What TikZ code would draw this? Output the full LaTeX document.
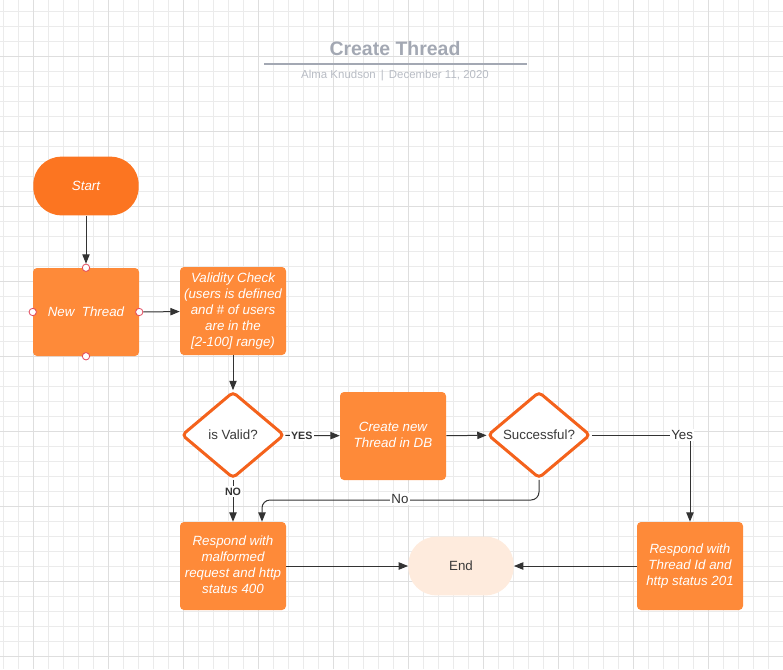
\documentclass[tikz,border=0pt]{standalone}
\usepackage{fontspec}
\setmainfont{Liberation Sans}
\usepackage{tikz}
\usetikzlibrary{shapes.geometric,arrows.meta}
\definecolor{GridMinor}{RGB}{235,235,235}
\definecolor{GridMajor}{RGB}{222,222,222}
\definecolor{TitleGray}{RGB}{163,168,179}
\definecolor{SubGray}{RGB}{184,188,196}
\definecolor{StartOrange}{RGB}{252,117,33}
\definecolor{BoxOrange}{RGB}{254,138,57}
\definecolor{EdgeOrange}{RGB}{244,98,28}
\definecolor{EndPeach}{RGB}{254,235,221}
\definecolor{PointRed}{RGB}{226,72,92}
\definecolor{LineGray}{RGB}{51,51,51}
\definecolor{TextDark}{RGB}{58,58,58}

\begin{document}
\begin{tikzpicture}[x=0.75pt,y=-0.75pt,
    every node/.style={font=\fontsize{10}{12}\selectfont},
    terminal/.style={rectangle, rounded corners=21pt, minimum width=79pt, minimum height=44pt, inner sep=0pt},
    process/.style={rectangle, rounded corners=3pt, fill=BoxOrange, text=white,
      font=\fontsize{10}{12}\selectfont\itshape, minimum width=79.5pt, minimum height=66pt, inner sep=0pt},
    decision/.style={diamond, aspect=1.2, draw=EdgeOrange, line width=2.25pt, rounded corners=3pt,
      fill=white, text=TextDark, minimum width=77pt, minimum height=65pt, inner sep=0pt},
    conpt/.style={circle, draw=PointRed, fill=white, line width=0.6pt, minimum size=5.5pt, inner sep=0pt},
    arr/.style={draw=LineGray, line width=0.75pt, -{Triangle[length=7pt,width=5.5pt]}},
    tag/.style={fill=white, text=LineGray, inner sep=1pt}]

  \useasboundingbox (0,0) rectangle (783,669);

  % grid
  \foreach \x in {3.3,18.3,...,783} \draw[GridMinor, line width=0.75pt] (\x,0) -- (\x,669);
  \foreach \y in {11.7,26.7,...,669} \draw[GridMinor, line width=0.75pt] (0,\y) -- (783,\y);
  \foreach \x in {33.3,108.3,...,783} \draw[GridMajor, line width=0.75pt] (\x,0) -- (\x,669);
  \foreach \y in {56.7,131.7,...,669} \draw[GridMajor, line width=0.75pt] (0,\y) -- (783,\y);

  % heading
  \node (Title) [text=TitleGray, font=\fontsize{14.6}{17}\selectfont\bfseries] at (395,49) {Create Thread};
  \draw[TitleGray, line width=0.9pt] (264,64) -- (527,64);
  \node (Sub) [text=SubGray, font=\fontsize{8.6}{10}\selectfont] at (395,76) {Alma Knudson \,|\, December 11, 2020};

  % shapes
  \node (Start) [terminal, fill=StartOrange, text=white, font=\fontsize{10}{12}\selectfont\itshape] at (86,186) {Start};
  \node (NewThread) [process] at (86,312) {New\ \ Thread};
  \node (Check) [process] at (233,311) {
    \begin{tabular}{@{}c@{}}
      Validity Check \\
      (users is defined \\
      and \# of users \\
      are in the \\
      {[2-100]} range)
    \end{tabular}
  };
  \node (Valid) [decision] at (233,435) {is Valid?};
  \node (Create) [process] at (393,436) {
    \begin{tabular}{@{}c@{}}
      Create new \\
      Thread in DB
    \end{tabular}
  };
  \node (Success) [decision] at (539,435) {Successful?};
  \node (Bad) [process] at (233,566) {
    \begin{tabular}{@{}c@{}}
      Respond with \\
      malformed \\
      request and http \\
      status 400
    \end{tabular}
  };
  \node (End) [terminal, fill=EndPeach, text=TextDark] at (461,566) {End};
  \node (Good) [process] at (690,566) {
    \begin{tabular}{@{}c@{}}
      Respond with \\
      Thread Id and \\
      http status 201
    \end{tabular}
  };

  % connection points
  \node (PTop) [conpt] at (NewThread.north) {};
  \node (PLeft) [conpt] at (NewThread.west) {};
  \node (PRight) [conpt] at (NewThread.east) {};
  \node (PBottom) [conpt] at (NewThread.south) {};

  % connectors
  \draw[arr] (Start) -- (PTop);
  \draw[arr] (PRight) -- (Check);
  \draw[arr] (Check) -- (Valid);
  \draw[arr] (Valid) -- (Create) node [tag, pos=0.3, font=\fontsize{8}{10}\selectfont\bfseries] {YES};
  \draw[arr] (Valid) -- (Bad) node [tag, pos=0.28, font=\fontsize{8}{10}\selectfont\bfseries] {NO};
  \draw[arr] (Create) -- (Success);
  \draw[arr] (Success.east) -| (Good) node [tag, pos=0.46] {Yes};
  \coordinate (NoTurn) at (262,500);
  \draw[arr, rounded corners=6pt] (Success.south) |- (NoTurn) -- (NoTurn |- Bad.north);
  \node (NoTag) [tag] at (400,499) {No};
  \draw[arr] (Bad) -- (End);
  \draw[arr] (Good) -- (End);
\end{tikzpicture}
\end{document}
